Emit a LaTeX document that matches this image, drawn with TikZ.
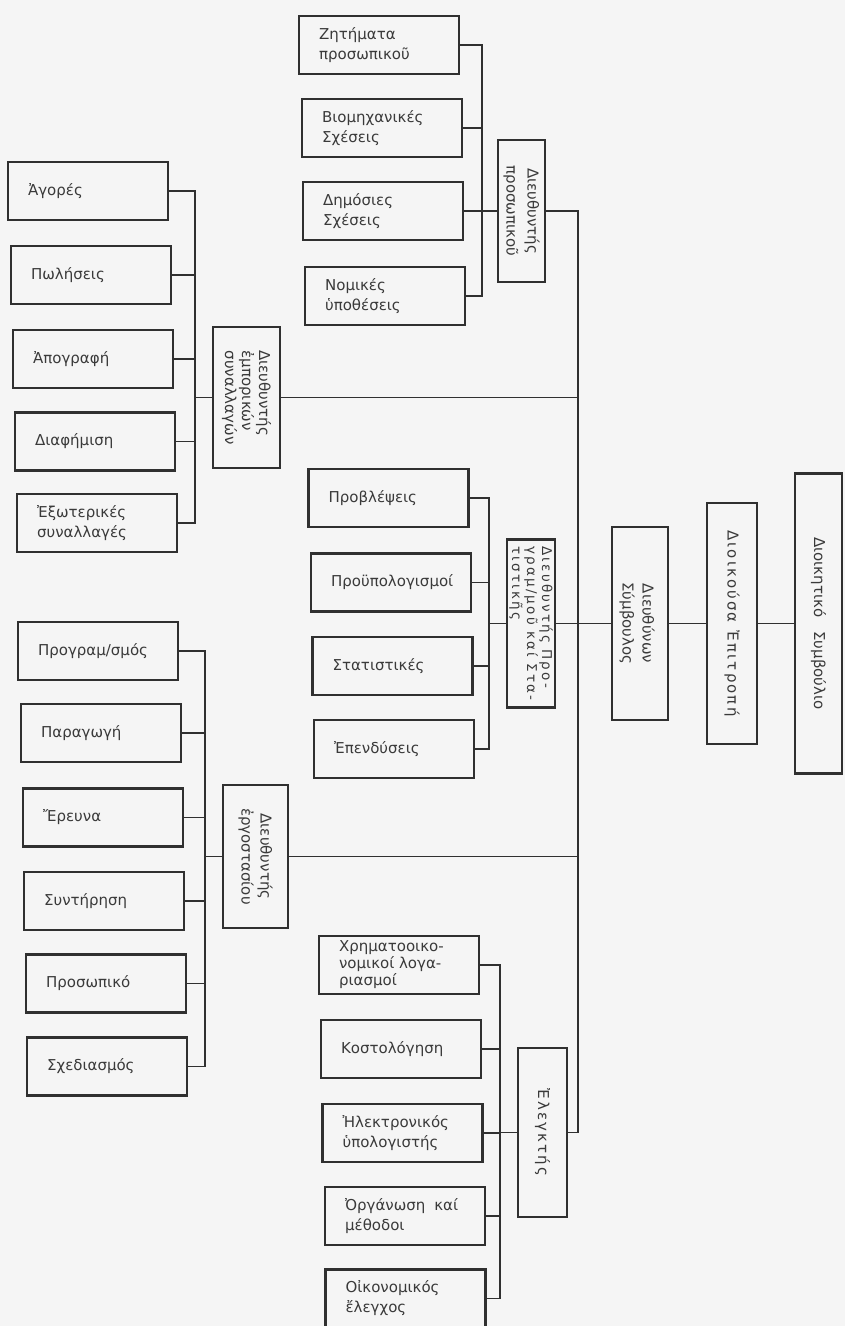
\documentclass[tikz,border=0pt]{standalone}
\usepackage{fontspec}
\setmainfont{DejaVu Sans}
\newfontfamily\spacedfont[LetterSpace=14]{DejaVu Sans}
\newfontfamily\widefont[LetterSpace=16]{DejaVu Sans}
\definecolor{ink}{HTML}{303030}
\definecolor{textcol}{HTML}{3A3A3A}
\definecolor{paper}{HTML}{F5F5F5}
% a department box with its left-aligned caption
\newcommand\leaf[4][20]{%
  \node[box] (#2) at (#3) {};
  \node[lbl, font=\fontsize{15}{#1}\selectfont] (#2t) at ([xshift=21pt]#2.west) {#4};}
\begin{document}
\begin{tikzpicture}[x=1pt,y=-1pt,
  box/.style={draw=ink, line width=2.2pt, minimum width=160pt, minimum height=58pt, inner sep=0pt},
  lbl/.style={anchor=west, align=left, text=textcol, inner sep=0pt},
  head/.style={draw=ink, line width=2.2pt, inner sep=0pt},
  vlbl/.style={rotate=-90, align=center, text=textcol, inner sep=0pt, font=\fontsize{15}{21}\selectfont},
  wire/.style={draw=ink, line width=1.3pt}]
\fill[paper] (0,0) rectangle (845,1326);
\useasboundingbox (0,0) rectangle (845,1326);

% ---- personnel
\leaf{z1}{379,45}{Ζητήματα\\προσωπικοῦ}
\leaf{z2}{382,128}{Βιομηχανικές\\Σχέσεις}
\leaf{z3}{383,211}{Δημόσιες\\Σχέσεις}
\leaf{z4}{385,296}{Νομικές\\ὑποθέσεις}
\node[head, minimum width=47pt, minimum height=142pt] (dpers) at (521.5,211) {};
\node[vlbl] (dperst) at (dpers.center) {Διευθυντής\\προσωπικοῦ};

% ---- commerce
\leaf{a1}{88,191}{Ἀγορές}
\leaf{a2}{91,275}{Πωλήσεις}
\leaf{a3}{93,359}{Ἀπογραφή}
\leaf{a4}{95,441.5}{Διαφήμιση}
\leaf{a5}{97,523}{Ἐξωτερικές\\συναλλαγές}
\node[head, minimum width=67pt, minimum height=141pt] (dcomm) at (246.5,397.5) {};
\node[vlbl, align=left, font=\fontsize{15}{17}\selectfont] (dcommt) at (dcomm.center) {Διευθυντής\\ἐμπορικών\\συναλλαγών};

% ---- planning
\leaf{p1}{388.5,498}{Προβλέψεις}
\leaf{p2}{391,582.5}{Προϋπολογισμοί}
\leaf{p3}{392.5,666}{Στατιστικές}
\leaf{p4}{394,749}{Ἐπενδύσεις}
\node[head, minimum width=48pt, minimum height=168pt] (dplan) at (531,623.5) {};
\node[vlbl, align=left, font=\widefont\fontsize{13.5}{15}\selectfont] (dplant) at (dplan.center) {Διευθυντής Προ-\\γραμ/μοῦ καί Στα-\\τιστικῆς};

% ---- factory
\leaf{f1}{98,651}{Προγραμ/σμός}
\leaf{f2}{101,733}{Παραγωγή}
\leaf{f3}{103,817.5}{Ἔρευνα}
\leaf{f4}{104,901}{Συντήρηση}
\leaf{f5}{106,983.5}{Προσωπικό}
\leaf{f6}{107,1066.5}{Σχεδιασμός}
\node[head, minimum width=65pt, minimum height=143pt] (dfact) at (255.5,856.5) {};
\node[vlbl, font=\fontsize{15}{19}\selectfont] (dfactt) at (dfact.center) {Διευθυντής\\ἐργοστασίου};

% ---- control
\leaf[17]{c1}{399,965}{Χρηματοοικο-\\νομικοί λογα-\\ριασμοί}
\leaf{c2}{401,1049}{Κοστολόγηση}
\leaf{c3}{402.5,1133}{Ἠλεκτρονικός\\ὑπολογιστής}
\leaf{c4}{405,1216}{Ὀργάνωση\hspace{9pt}καί\\μέθοδοι}
\leaf{c5}{405.5,1298.5}{Οἰκονομικός\\ἔλεγχος}
\node[head, minimum width=49pt, minimum height=169pt] (ctrl) at (542.5,1132.5) {};
\node[vlbl, font=\spacedfont\fontsize{15}{21}\selectfont] (ctrlt) at (ctrl.center) {Ἐλεγκτής};

% ---- top management
\node[head, minimum width=56pt, minimum height=193pt] (ds) at (640,623.5) {};
\node[vlbl, font=\fontsize{15}{20}\selectfont] (dst) at ([xshift=-3pt]ds.center) {Διευθύνων\\Σύμβουλος};
\node[head, minimum width=50pt, minimum height=241pt] (de) at (732,623.5) {};
\node[vlbl, font=\spacedfont\fontsize{15}{21}\selectfont] (det) at (de.center) {Διοικούσα\hspace{8pt}Ἐπιτροπή};
\node[head, minimum width=47pt, minimum height=300pt] (db) at (818.5,623.5) {};
\node[vlbl] (dbt) at (db.center) {Διοικητικό\hspace{14pt}Συμβούλιο};

% ---- bus positions
\coordinate (pbus) at (482,0);
\coordinate (abus) at (195,0);
\coordinate (qbus) at (489,0);
\coordinate (fbus) at (205,0);
\coordinate (cbus) at (500,0);
\coordinate (tr) at (578,0);

% personnel bus
\draw[wire] (z1.east) -| (pbus |- z4.east) -- (z4.east);
\foreach \n in {z2,z3} \draw[wire] (\n.east) -- (\n.east -| pbus);
\draw[wire] (pbus |- dpers.west) -- (dpers.west);
% commerce bus
\draw[wire] (a1.east) -| (abus |- a5.east) -- (a5.east);
\foreach \n in {a2,a3,a4} \draw[wire] (\n.east) -- (\n.east -| abus);
\draw[wire] (abus |- dcomm.west) -- (dcomm.west);
% planning bus
\draw[wire] (p1.east) -| (qbus |- p4.east) -- (p4.east);
\foreach \n in {p2,p3} \draw[wire] (\n.east) -- (\n.east -| qbus);
\draw[wire] (qbus |- dplan.west) -- (dplan.west);
% factory bus
\draw[wire] (f1.east) -| (fbus |- f6.east) -- (f6.east);
\foreach \n in {f2,f3,f4,f5} \draw[wire] (\n.east) -- (\n.east -| fbus);
\draw[wire] (fbus |- dfact.west) -- (dfact.west);
% control bus
\draw[wire] (c1.east) -| (cbus |- c5.east) -- (c5.east);
\foreach \n in {c2,c3,c4} \draw[wire] (\n.east) -- (\n.east -| cbus);
\draw[wire] (cbus |- ctrl.west) -- (ctrl.west);

% main trunk
\draw[wire] (dpers.east) -| (tr |- ctrl.east) -- (ctrl.east);
\draw[wire] (dcomm.east) -- (dcomm.east -| tr);
\draw[wire] (dfact.east) -- (dfact.east -| tr);
\draw[wire] (dplan.east) -- (ds.west);
\draw[wire] (ds.east) -- (de.west);
\draw[wire] (de.east) -- (db.west);
\end{tikzpicture}
\end{document}
